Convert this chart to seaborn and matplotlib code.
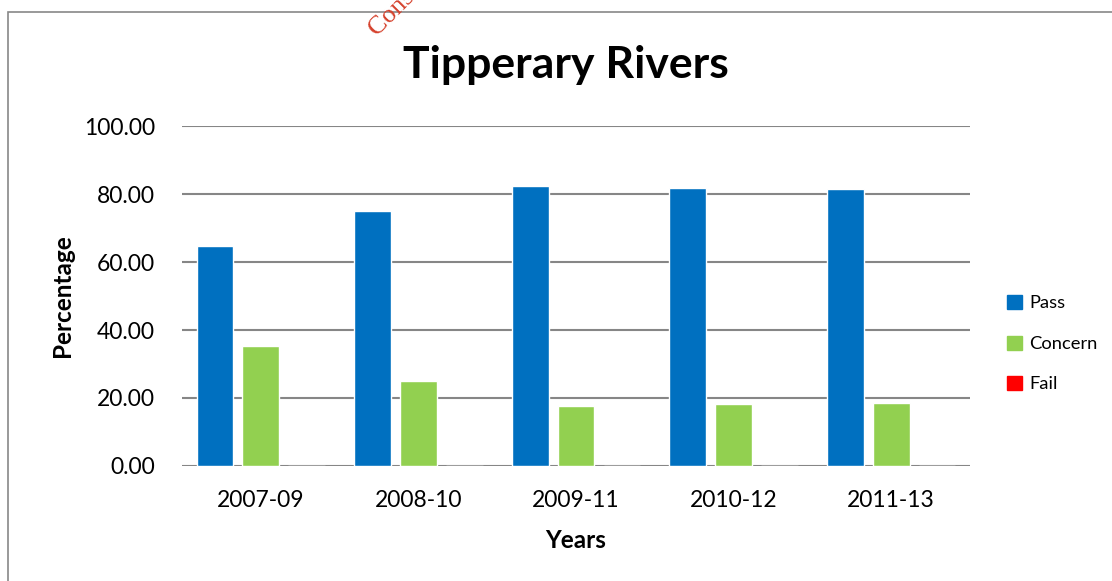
import numpy as np
import pandas as pd
import matplotlib
matplotlib.use("Agg")
import matplotlib.pyplot as plt
import matplotlib.patches as mpatches
import seaborn as sns

# ── data ────────────────────────────────────────────────────
years = ["2007-09", "2008-10", "2009-11", "2010-12", "2011-13"]
pass_pct = [64.7, 75.0, 82.4, 81.9, 81.6]
concern_pct = [35.3, 25.0, 17.6, 18.1, 18.4]
fail_pct = [0.0, 0.0, 0.0, 0.0, 0.0]
series = ["Pass", "Concern", "Fail"]
colors = ["#0070C0", "#92D050", "#FF0000"]
yticks = [0, 20, 40, 60, 80, 100]

df = pd.DataFrame({
    "Years": years * 3,
    "Percentage": pass_pct + concern_pct + fail_pct,
    "Series": [s for s in series for _ in years],
})

sns.set_theme(style="white")
plt.rcParams["font.family"] = ["Lato", "DejaVu Sans"]
plt.rcParams["text.color"] = "black"
plt.rcParams["xtick.color"] = "black"
plt.rcParams["ytick.color"] = "black"

fig = plt.figure(figsize=(11.12, 5.81), dpi=100)
ax = fig.add_axes([0.1637, 0.198, 0.7086, 0.585])

sns.barplot(data=df, x="Years", y="Percentage", hue="Series",
            hue_order=series, palette=colors, width=0.873, gap=0.2,
            saturation=1, errorbar=None, legend=False, ax=ax)

ax.set_ylim(0, 100)
ax.set_xlim(-0.5, 4.5)
ax.set_yticks(yticks)
ax.set_yticklabels([f"{v:.2f}" for v in yticks], fontsize=16.5)
ax.tick_params(axis="x", labelsize=16.5, length=0, pad=17)
ax.tick_params(axis="y", length=0, pad=19.5)
ax.yaxis.grid(True, color="#868686", linewidth=1.5)
ax.set_axisbelow(True)
for s in ax.spines.values():
    s.set_visible(False)
ax.set_xlabel("")
ax.set_ylabel("")

fig.text(0.509, 0.888, "Tipperary Rivers", ha="center", va="center",
         fontsize=32, fontweight="bold")
fig.text(0.518, 0.069, "Years", ha="center", va="center",
         fontsize=17.5, fontweight="bold")
fig.text(0.056, 0.491, "Percentage", ha="center", va="center",
         rotation=90, fontsize=17.5, fontweight="bold")

handles = [mpatches.Patch(color=c, label=s) for s, c in zip(series, colors)]
fig.legend(handles=handles, loc="upper left", bbox_to_anchor=(0.899, 0.505),
           frameon=False, fontsize=13.2, handlelength=0.8, handleheight=0.8,
           handletextpad=0.4, labelspacing=1.32, borderaxespad=0)

# chart frame and watermark
fig.patches.append(mpatches.Rectangle((8 / 1112, -0.1), 1.2, 1 - 12 / 581 + 0.1,
                                      transform=fig.transFigure, fill=False,
                                      edgecolor="#888888", linewidth=1.2))
fig.text(0.328, 0.93, "Consultation Draft", rotation=45, fontsize=19,
         color="#D5402B", family="Liberation Serif", ha="left", va="bottom")

fig.savefig("out.png", dpi=100)
